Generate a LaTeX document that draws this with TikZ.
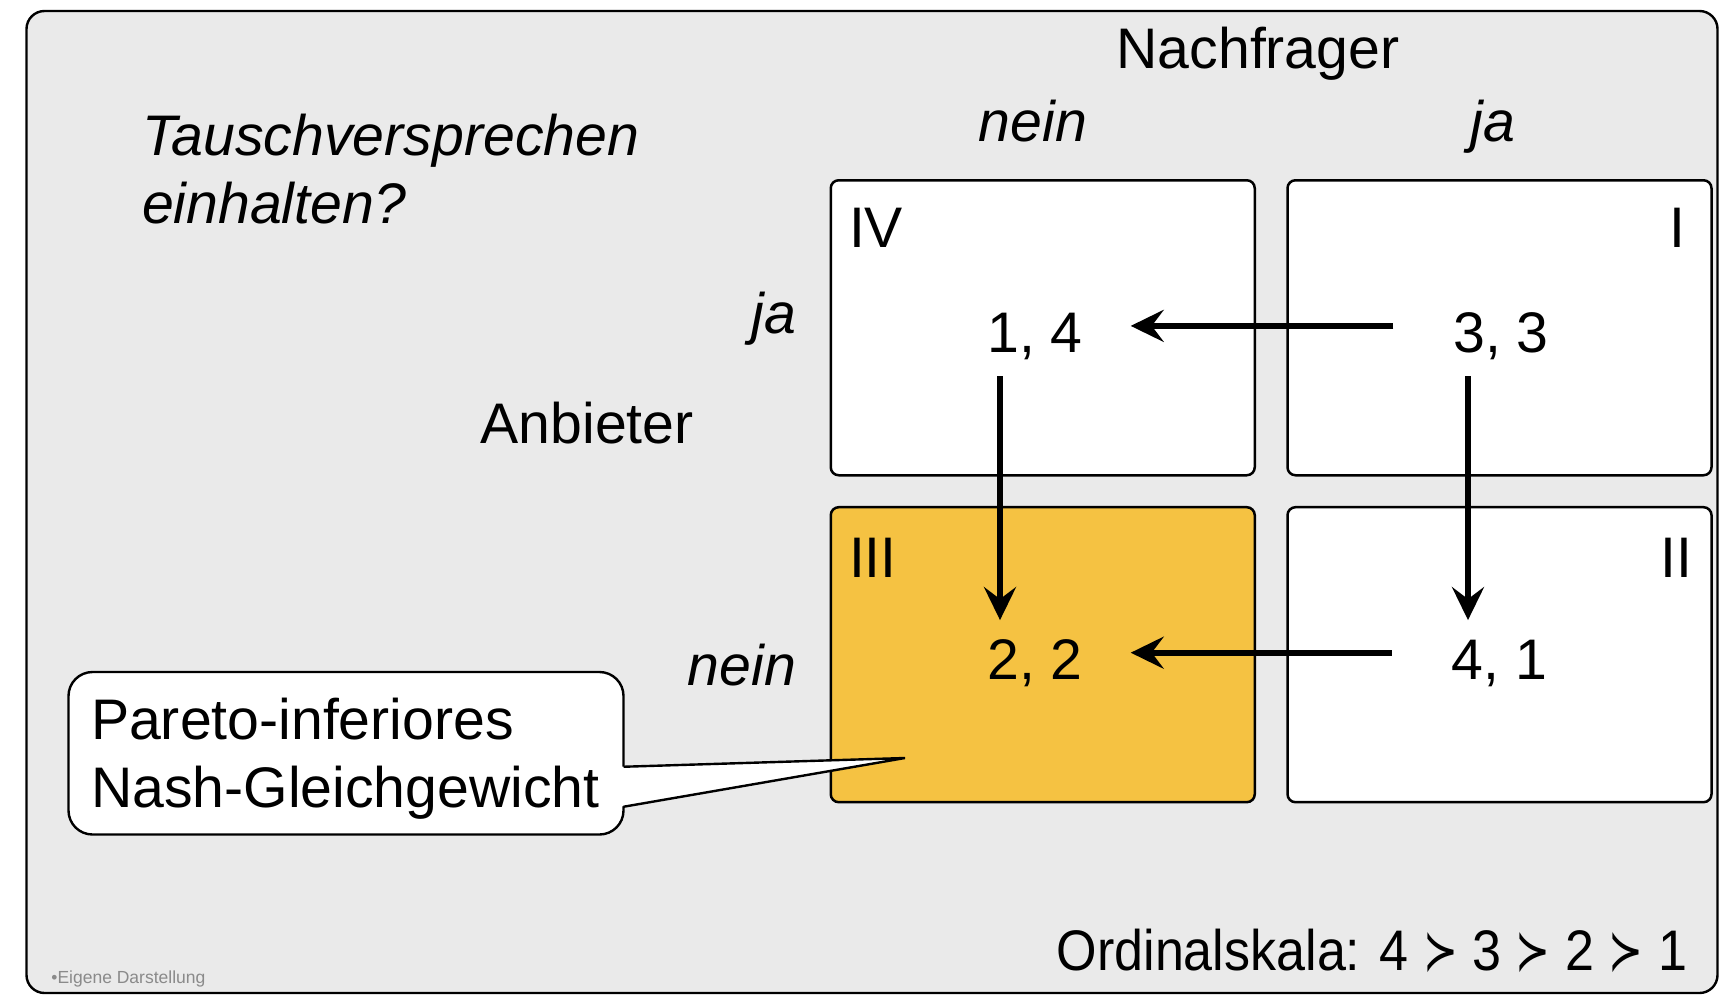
\documentclass[tikz,border=0pt]{standalone}
\usepackage{fontspec}
\usepackage{graphicx}
\setmainfont{Liberation Sans}
\newfontfamily\dejavu{DejaVu Sans}
\usetikzlibrary{arrows.meta}
\definecolor{bggray}{HTML}{EAEAEA}
\definecolor{nashorange}{HTML}{F5C242}
\definecolor{srcgray}{HTML}{8A8A8A}
\newcommand{\prefsym}{\scalebox{0.8}[1]{\dejavu ≻}}
\begin{document}
\begin{tikzpicture}[x=0.5pt,y=-0.5pt,
  big/.style={font=\fontsize{28.6}{34}\selectfont, inner sep=0pt, outer sep=0pt},
  bigit/.style={font=\fontsize{28.6}{34}\selectfont\itshape, inner sep=0pt, outer sep=0pt},
  cell/.style={draw=black, line width=1.25pt, rounded corners=4pt, minimum width=212pt, minimum height=147.5pt, inner sep=0pt, outer sep=0pt},
  pay/.style={big, text height=20.6pt, text depth=0pt, anchor=base},
  arr/.style={line width=3.2pt, -{Stealth[length=16.5pt,width=16pt,inset=6pt]}},
]
\useasboundingbox (0,0) rectangle (1734,1006);
% frame
\node[draw=black, line width=1.2pt, fill=bggray, rounded corners=9pt, minimum width=845.5pt, minimum height=491pt, inner sep=0pt] (frame) at (872,502) {};
% cells
\node[cell, fill=white] (c4) at (1042.75,327.75) {};
\node[cell, fill=white] (c1) at (1499.5,327.75) {};
\node[cell, fill=nashorange] (c3) at (1042.75,654.7) {};
\node[cell, fill=white] (c2) at (1499.5,654.7) {};
% roman numerals
\node[big, anchor=base west] (r4) at (849,247.5) {IV};
\node[big, anchor=base east] (r1) at (1685,247.5) {I};
\node[big, anchor=base west] (r3) at (849,577) {III};
\node[big, anchor=base east] (r2) at (1692,577) {II};
% payoffs
\node[pay] (p14) at (1035,352.5) {1, 4};
\node[pay] (p33) at (1501,352.5) {3, 3};
\node[pay] (p22) at (1035,679.3) {2, 2};
\node[pay] (p41) at (1499.5,679.3) {4, 1};
% arrows
\draw[arr] ([shift={(-60,-6)}]p33.west) -- ([shift={(48,-6)}]p14.east);
\draw[arr] ([shift={(-60,-6)}]p41.west) -- ([shift={(48,-6)}]p22.east);
\draw[arr] ([shift={(-35,23.5)}]p14.south) -- ([shift={(-35,-18)}]p22.north);
\draw[arr] ([shift={(-33,23.5)}]p33.south) -- ([shift={(-31.5,-18)}]p41.north);
% headings
\node[big, anchor=base] (nach) at (1258,68.3) {Nachfrager};
\node[bigit, anchor=base] (colnein) at (1033,141.7) {nein};
\node[bigit, anchor=base] (colja) at (1493,141.7) {ja};
\node[bigit, anchor=base west, align=left] (q) at (142,223) {Tauschversprechen\\einhalten?};
\node[bigit, anchor=base east] (rowja) at (796,333) {ja};
\node[bigit, anchor=base east] (rownein) at (796,685) {nein};
\node[big, anchor=base west] (anb) at (480.6,443.3) {Anbieter};
% callout
\node[draw=black, line width=1.2pt, fill=white, rounded corners=12pt, minimum width=277.5pt, minimum height=81.25pt, inner sep=0pt, outer sep=0pt] (callout) at (346,753.25) {};
\coordinate (tip) at (905,758);
\fill[white] ([shift={(-4,13.5)}]callout.east) -- (tip) -- ([shift={(-4,53.5)}]callout.east) -- cycle;
\draw[line width=1.2pt, line join=miter] ([shift={(0,13.5)}]callout.east) -- (tip) -- ([shift={(0,53.5)}]callout.east);
\node[big, anchor=base west, align=left] (ctext) at (91,807.7) {Pareto-inferiores\\Nash-Gleichgewicht};
% scale + source
\node[big, anchor=base east] (ord) at (1687,970) {\scalebox{0.91}[1]{Ordinalskala: 4 \prefsym{} 3 \prefsym{} 2 \prefsym{} 1}};
\node[font=\fontsize{8.75}{10}\selectfont, text=srcgray, anchor=base west, inner sep=0pt] (src) at (51,983.5) {•Eigene Darstellung};
\end{tikzpicture}
\end{document}
